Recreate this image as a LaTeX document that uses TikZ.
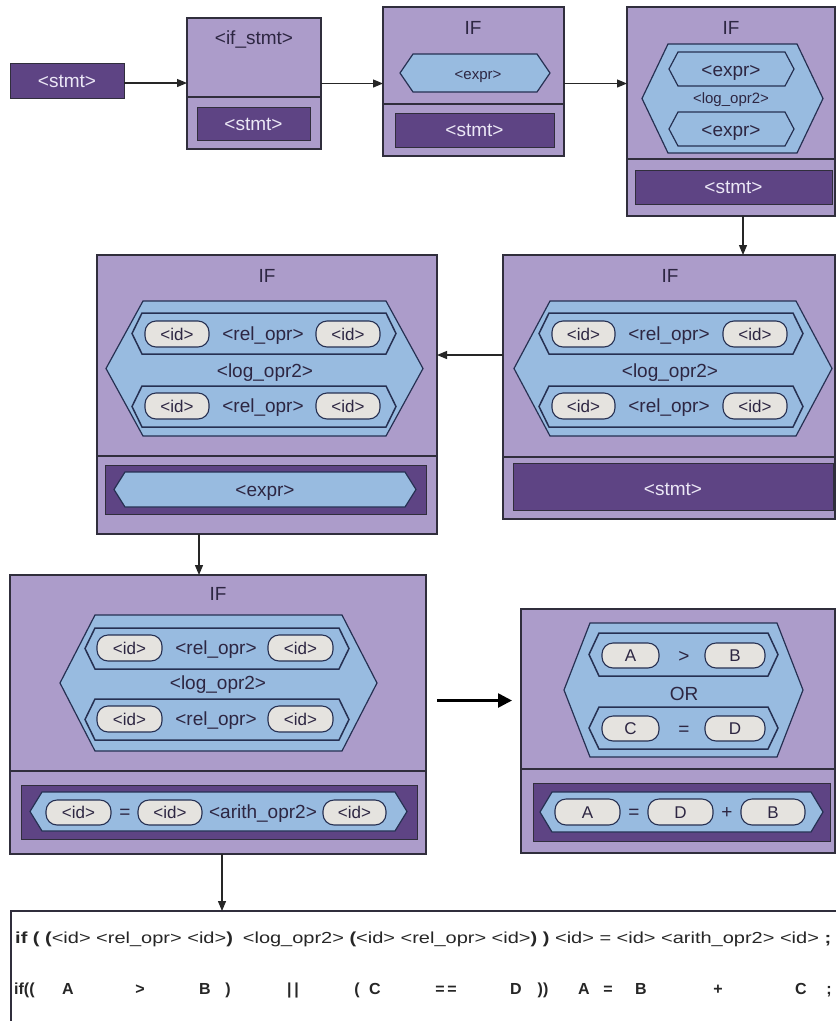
\documentclass[tikz,border=0pt]{standalone}
\usepackage{fontspec}
\setmainfont{Liberation Sans}
\usetikzlibrary{arrows.meta}

\definecolor{boxfill}{RGB}{172,156,202}
\definecolor{darkfill}{RGB}{94,68,132}
\definecolor{hexfill}{RGB}{152,187,224}
\definecolor{pillfill}{RGB}{229,227,223}
\definecolor{hexline}{RGB}{38,48,82}
\definecolor{boxline}{RGB}{48,46,60}
\definecolor{ink}{RGB}{45,38,66}
\definecolor{paleink}{RGB}{236,232,246}

\tikzset{
  ifbox/.style={draw=boxline, fill=boxfill, line width=1.2pt, inner sep=0pt, outer sep=0pt},
  darkbar/.style={draw=boxline, fill=darkfill, line width=1pt, inner sep=0pt, outer sep=0pt},
  codebox/.style={draw=boxline, fill=white, line width=1.2pt, inner sep=0pt, outer sep=0pt},
  bighex/.style={draw=hexline, fill=hexfill, line width=1.2pt},
  subhex/.style={draw=hexline, fill=hexfill, line width=1.2pt},
  relhex/.style={draw=hexline, fill=hexfill, line width=1.5pt},
  pillnode/.style={draw=hexline, fill=pillfill, line width=1.1pt, rounded corners=11pt,
    inner sep=0pt, font=\fontsize{17}{19}\selectfont, text=ink, text height=12.2pt, text depth=0pt},
  lbl/.style={font=\fontsize{19}{21}\selectfont, text=ink, inner sep=0pt, text height=13.7pt, text depth=0pt},
  lblsmall/.style={font=\fontsize{15}{17}\selectfont, text=ink, inner sep=0pt, text height=10.8pt, text depth=0pt},
  lbllight/.style={font=\fontsize{19}{21}\selectfont, text=paleink, inner sep=0pt, text height=13.7pt, text depth=0pt},
  arrowline/.style={draw=black!85, line width=1.2pt, -{Triangle[length=10pt,width=8pt]}},
  bigarrow/.style={draw=black, line width=2.6pt, -{Triangle[length=14pt,width=14pt]}},
  divline/.style={draw=boxline, line width=1.2pt},
  codetext/.style={font=\fontsize{16}{18}\selectfont, text=black!85, inner sep=0pt, anchor=base west},
  codebold/.style={font=\fontsize{16}{18}\selectfont\bfseries, text=black!85, inner sep=0pt, anchor=base},
}

% box node given by its corners (x1,y1) (x2,y2)
\newcommand\boxat[6]{\node[#2, anchor=north west, minimum width={(#5-(#3))*1pt}, minimum height={(#6-(#4))*1pt}] (#1) at (#3,#4) {};}
% pointed cell: style, corners, tip depth
\newcommand\hexat[6]{\path[#1] (#2,{(#3+#5)/2}) -- ({#2+#6},#3) -- ({#4-#6},#3) -- (#4,{(#3+#5)/2}) -- ({#4-#6},#5) -- ({#2+#6},#5) -- cycle;}
% rounded token: name, corners, text
\newcommand\pillat[6]{\node[pillnode, minimum width={(#4-#2)*1pt}, minimum height={(#5-#3)*1pt}] (#1) at ({(#2+#4)/2},{(#3+#5)/2}) {#6};}

\begin{document}
\begin{tikzpicture}[x=1pt,y=-1pt]
\useasboundingbox (0,0) rectangle (836,1021);
\fill[white] (0,0) rectangle (836,1021);

% starting statement
\boxat{s0}{darkbar}{10}{63}{124}{98}
\node[lbllight] (s0t) at (s0) {<stmt>};

% <if_stmt>
\boxat{b2}{ifbox}{187}{18}{321}{149}
\draw[divline] (187,97) -- (321,97);
\node[lbl] (b2t) at (254,38) {<if\_stmt>};
\boxat{b2s}{darkbar}{197}{107}{310}{140}
\node[lbllight] (b2st) at (b2s) {<stmt>};

% IF <expr>
\boxat{b3}{ifbox}{383}{7}{564}{156}
\draw[divline] (383,104) -- (564,104);
\node[lbl] (b3t) at (473,28) {IF};
\hexat{bighex}{400}{54}{550}{92}{13}
\node[lblsmall] (b3e) at (478,74) {<expr>};
\boxat{b3s}{darkbar}{395}{113}{554}{147}
\node[lbllight] (b3st) at (b3s) {<stmt>};

% IF <expr> <log_opr2> <expr>
\boxat{b4}{ifbox}{627}{7}{835}{216}
\draw[divline] (627,159) -- (835,159);
\node[lbl] (b4t) at (731,28) {IF};
\hexat{bighex}{642}{44}{823}{153}{26}
\hexat{subhex}{669}{52}{794}{86}{9}
\hexat{subhex}{669}{112}{794}{146}{9}
\node[lbl] (b4e1) at (731,70) {<expr>};
\node[lblsmall] (b4l) at (731,98) {<log\_opr2>};
\node[lbl] (b4e2) at (731,130) {<expr>};
\boxat{b4s}{darkbar}{635}{170}{832}{204}
\node[lbllight] (b4st) at (b4s) {<stmt>};

% IF with relations, body <stmt>
\boxat{b5}{ifbox}{503}{255}{835}{519}
\draw[divline] (503,457) -- (835,457);
\node[lbl] (b5t) at (670,276) {IF};
\hexat{bighex}{514}{301}{832}{436}{36}
\hexat{relhex}{539}{313}{803}{354}{10}
\hexat{relhex}{539}{386}{803}{427}{10}
\pillat{b5a}{552}{321}{615}{347}{<id>}
\node[lbl] (b5r1) at (669,334) {<rel\_opr>};
\pillat{b5b}{723}{321}{787}{347}{<id>}
\node[lbl] (b5l) at (670,371) {<log\_opr2>};
\pillat{b5c}{552}{393}{615}{419}{<id>}
\node[lbl] (b5r2) at (669,406) {<rel\_opr>};
\pillat{b5d}{723}{393}{787}{419}{<id>}
\boxat{b5s}{darkbar}{513}{463}{833}{510}
\node[lbllight] (b5st) at (673,489) {<stmt>};

% IF with relations, body <expr>
\boxat{b6}{ifbox}{97}{255}{437}{534}
\draw[divline] (97,456) -- (437,456);
\node[lbl] (b6t) at (267,276) {IF};
\hexat{bighex}{106}{301}{423}{436}{37}
\hexat{relhex}{132}{313}{396}{354}{10}
\hexat{relhex}{132}{386}{396}{427}{10}
\pillat{b6a}{145}{321}{209}{347}{<id>}
\node[lbl] (b6r1) at (263,334) {<rel\_opr>};
\pillat{b6b}{316}{321}{380}{347}{<id>}
\node[lbl] (b6l) at (265,371) {<log\_opr2>};
\pillat{b6c}{145}{393}{209}{419}{<id>}
\node[lbl] (b6r2) at (263,406) {<rel\_opr>};
\pillat{b6d}{316}{393}{380}{419}{<id>}
\boxat{b6s}{darkbar}{105}{465}{426}{514}
\hexat{subhex}{114}{472}{416}{507}{11}
\node[lbl] (b6e) at (265,490) {<expr>};

% IF with relations, body assignment
\boxat{b7}{ifbox}{10}{575}{426}{854}
\draw[divline] (10,771) -- (426,771);
\node[lbl] (b7t) at (218,594) {IF};
\hexat{bighex}{60}{615}{377}{751}{35}
\hexat{relhex}{85}{628}{349}{669}{10}
\hexat{relhex}{85}{699}{349}{740}{10}
\pillat{b7a}{97}{635}{162}{661}{<id>}
\node[lbl] (b7r1) at (216,648) {<rel\_opr>};
\pillat{b7b}{268}{635}{333}{661}{<id>}
\node[lbl] (b7l) at (218,683) {<log\_opr2>};
\pillat{b7c}{97}{706}{162}{732}{<id>}
\node[lbl] (b7r2) at (216,719) {<rel\_opr>};
\pillat{b7d}{268}{706}{333}{732}{<id>}
\boxat{b7s}{darkbar}{21}{785}{417}{839}
\hexat{subhex}{30}{792}{407}{831}{12}
\pillat{b7e}{46}{800}{111}{825}{<id>}
\node[lbl] (b7q) at (125,812) {=};
\pillat{b7f}{138}{800}{202}{825}{<id>}
\node[lbl] (b7o) at (263,812) {<arith\_opr2>};
\pillat{b7g}{323}{800}{386}{825}{<id>}

% concrete instance
\boxat{b8}{ifbox}{521}{609}{835}{853}
\draw[divline] (521,769) -- (835,769);
\hexat{bighex}{564}{623}{803}{757}{26}
\hexat{relhex}{589}{633}{778}{676}{10}
\hexat{relhex}{589}{707}{778}{749}{10}
\pillat{b8a}{602}{643}{659}{668}{A}
\node[lbl] (b8g) at (684,656) {>};
\pillat{b8b}{705}{643}{765}{668}{B}
\node[lbl] (b8or) at (684,694) {OR};
\pillat{b8c}{602}{716}{659}{741}{C}
\node[lbl] (b8e) at (684,729) {=};
\pillat{b8d}{705}{716}{765}{741}{D}
\boxat{b8s}{darkbar}{533}{783}{830}{841}
\hexat{subhex}{540}{792}{823}{832}{12}
\pillat{b8f}{555}{799}{620}{825}{A}
\node[lbl] (b8q) at (634,812) {=};
\pillat{b8h}{648}{799}{713}{825}{D}
\node[lbl] (b8p) at (727,812) {+};
\pillat{b8i}{741}{799}{805}{825}{B}

% resulting source text
\boxat{b9}{codebox}{11}{911}{850}{1040}
\node[codetext] (c1) at (15,943) {\resizebox{816pt}{\height}{\textbf{if ( (}<id> <rel\_opr> <id>\textbf{)}\enspace <log\_opr2> \textbf{(}<id> <rel\_opr> <id>\textbf{) )} <id> = <id> <arith\_opr2> <id> \textbf{;}}};
\foreach \px/\tx [count=\i] in {68/A, 140/>, 205/B, 228/), 293/{|\,|}, 357/(, 375/C, 446/{=\,=}, 516/D, 543/)), 584/A, 608/=, 641/B, 718/+, 801/C, 829/;}
  \node[codebold] (w\i) at (\px,994) {\tx};
\node[codebold, anchor=base west] (w0) at (14,994) {if((};

% derivation steps
\draw[arrowline] ([yshift=-2.5pt]s0.east) -- ([yshift=-2.5pt]s0.east -| b2.west);
\draw[arrowline] (b2.east) -- (b2.east -| b3.west);
\draw[arrowline] (b2.east -| b3.east) -- (b2.east -| b4.west);
\draw[arrowline] ([xshift=12pt]b4.south) -- ([xshift=12pt]b4.south |- b5.north);
\draw[arrowline] ([yshift=32pt]b5.west) -- ([yshift=32pt]b5.west -| b6.east);
\draw[arrowline] ([xshift=-68pt]b6.south) -- ([xshift=-68pt]b6.south |- b7.north);
\draw[bigarrow, shorten <=11pt, shorten >=9pt] ([yshift=14pt]b7.east) -- ([yshift=14pt]b7.east -| b8.west);
\draw[arrowline] ([xshift=4pt]b7.south) -- ([xshift=4pt]b7.south |- b9.north);
\end{tikzpicture}
\end{document}
